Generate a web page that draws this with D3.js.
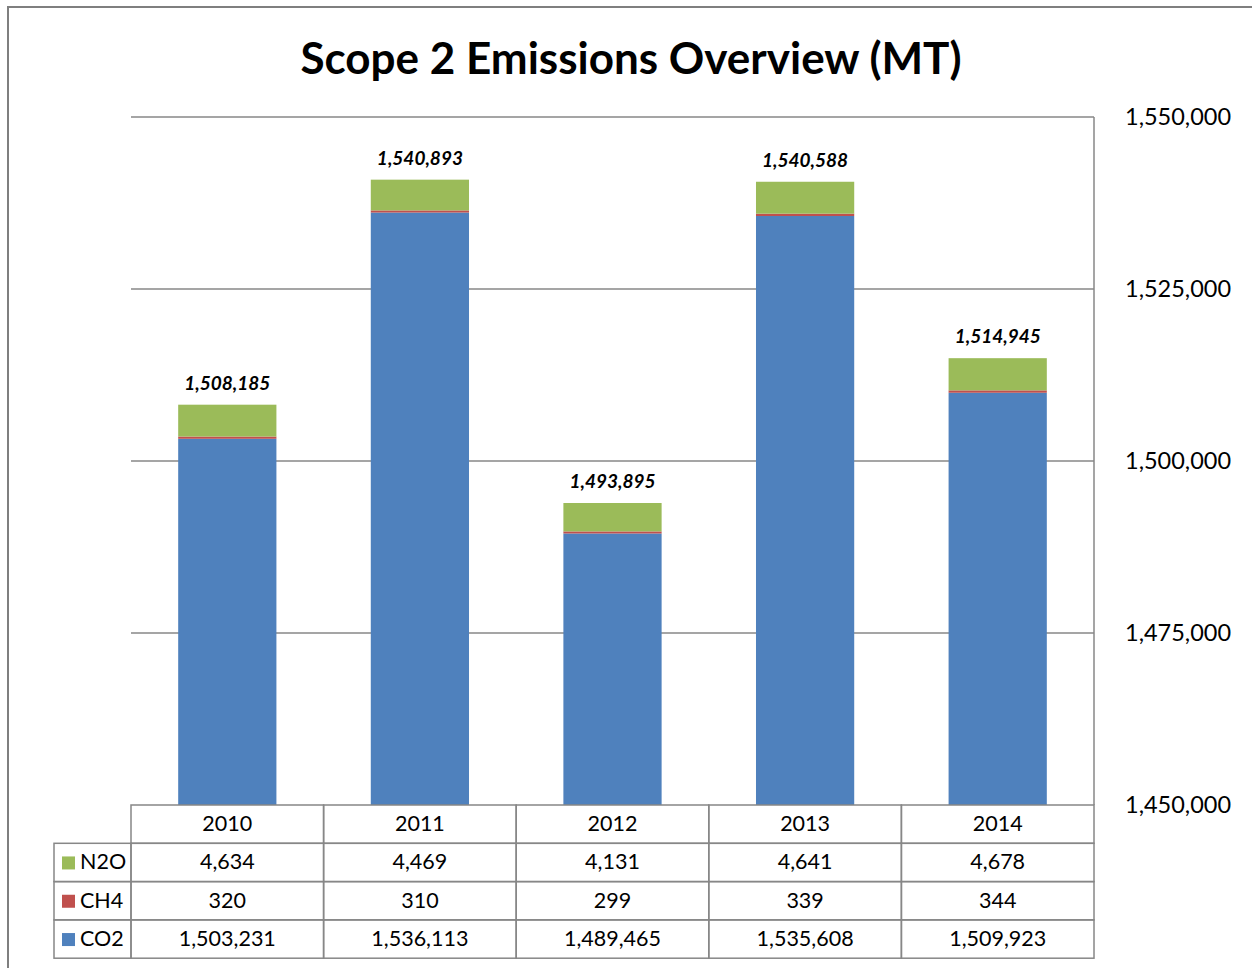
<!DOCTYPE html>
<html lang="en">
  <head>
    <meta charset="UTF-8" />
    <title>Scope 2 Emissions Overview (MT)</title>
    <script src="https://cdn.jsdelivr.net/npm/d3@7"></script>
    <style>
      body { margin: 0; background: #fff; }
      svg text { font-family: Lato, "Open Sans", sans-serif; fill: #000; }
      .grid line { stroke: #878787; stroke-width: 1.5px; }
      .cell { fill: none; stroke: #878787; stroke-width: 1.5px; }
    </style>
  </head>
  <body>
    <svg width="1252" height="968"></svg>
    <script>
      const years = ['2010', '2011', '2012', '2013', '2014'];
      const co2 = [1503231, 1536113, 1489465, 1535608, 1509923];
      const ch4 = [320, 310, 299, 339, 344];
      const n2o = [4634, 4469, 4131, 4641, 4678];
      const totals = [1508185, 1540893, 1493895, 1540588, 1514945];
      const yTicks = [1450000, 1475000, 1500000, 1525000, 1550000];

      // stacked bottom-to-top, table shows top-to-bottom
      const series = [
        { name: 'CO2', values: co2, color: '#4F81BD' },
        { name: 'CH4', values: ch4, color: '#C0504D' },
        { name: 'N2O', values: n2o, color: '#9BBB59' },
      ];

      const svg = d3.select('svg');
      const plotL = 131, plotR = 1094, plotT = 117, plotB = 805;
      const rowH = 38.3;

      // outer frame
      svg.append('path')
        .attr('d', 'M8,968V7H1252')
        .attr('fill', 'none')
        .attr('stroke', '#7f7f7f')
        .attr('stroke-width', 2);

      svg.append('text')
        .attr('x', 631).attr('y', 74)
        .attr('text-anchor', 'middle')
        .style('font-size', '44px')
        .style('font-weight', 'bold')
        .text('Scope 2 Emissions Overview (MT)');

      const x = d3.scaleBand().domain(years).range([plotL, plotR]).paddingInner(0.49).paddingOuter(0.245);
      const y = d3.scaleLinear().domain([1450000, 1550000]).range([plotB, plotT]);

      // gridlines
      svg.append('g').attr('class', 'grid')
        .selectAll('line').data(yTicks.slice(1)).join('line')
        .attr('x1', plotL).attr('x2', plotR)
        .attr('y1', d => y(d)).attr('y2', d => y(d));

      svg.append('line')
        .attr('x1', plotR).attr('x2', plotR)
        .attr('y1', plotT).attr('y2', plotB)
        .attr('stroke', '#878787').attr('stroke-width', 1.5);

      // right axis labels
      const fmt = d3.format(',');
      svg.append('g').selectAll('text').data(yTicks).join('text')
        .attr('x', 1125).attr('y', d => y(d) + 8)
        .style('font-size', '23.5px')
        .text(d => fmt(d));

      // stacked bars
      const stacked = d3.stack().keys([0, 1, 2]).value((i, k) => series[k].values[i])(d3.range(years.length));
      stacked.forEach((layer, k) => {
        svg.append('g').selectAll('rect').data(layer).join('rect')
          .attr('x', (d, i) => x(years[i]))
          .attr('width', x.bandwidth())
          .attr('y', d => y(d[1]))
          .attr('height', d => Math.max(0, y(Math.max(d[0], 1450000)) - y(d[1])))
          .attr('fill', series[k].color);
      });

      // total labels
      svg.append('g').selectAll('text').data(totals).join('text')
        .attr('x', (d, i) => x(years[i]) + x.bandwidth() / 2)
        .attr('y', (d, i) => y(stacked[2][i][1]) - 15)
        .attr('text-anchor', 'middle')
        .style('font-size', '19px')
        .style('font-weight', 'bold')
        .style('font-style', 'italic')
        .text(d => fmt(d));

      // data table
      const colW = (plotR - plotL) / years.length;
      const tbl = svg.append('g');
      tbl.selectAll('rect.head').data(years).join('rect')
        .attr('class', 'cell')
        .attr('x', (d, i) => plotL + i * colW).attr('y', plotB)
        .attr('width', colW).attr('height', rowH);
      tbl.selectAll('text.head').data(years).join('text')
        .attr('x', (d, i) => plotL + i * colW + colW / 2)
        .attr('y', plotB + rowH / 2 + 7)
        .attr('text-anchor', 'middle')
        .style('font-size', '21.5px')
        .text(d => d);

      const rows = series.slice().reverse();
      rows.forEach((s, r) => {
        const ry = plotB + rowH * (r + 1);
        tbl.append('rect').attr('class', 'cell')
          .attr('x', 54).attr('y', ry).attr('width', plotL - 54).attr('height', rowH);
        tbl.append('rect')
          .attr('x', 62).attr('y', ry + rowH / 2 - 6)
          .attr('width', 13).attr('height', 13)
          .attr('fill', s.color);
        tbl.append('text')
          .attr('x', 80).attr('y', ry + rowH / 2 + 7)
          .style('font-size', '21.5px')
          .text(s.name);
        tbl.selectAll(null).data(s.values).join('rect')
          .attr('class', 'cell')
          .attr('x', (d, i) => plotL + i * colW).attr('y', ry)
          .attr('width', colW).attr('height', rowH);
        tbl.selectAll(null).data(s.values).join('text')
          .attr('x', (d, i) => plotL + i * colW + colW / 2)
          .attr('y', ry + rowH / 2 + 7)
          .attr('text-anchor', 'middle')
          .style('font-size', '21.5px')
          .text(d => fmt(d));
      });
    </script>
  </body>
</html>
